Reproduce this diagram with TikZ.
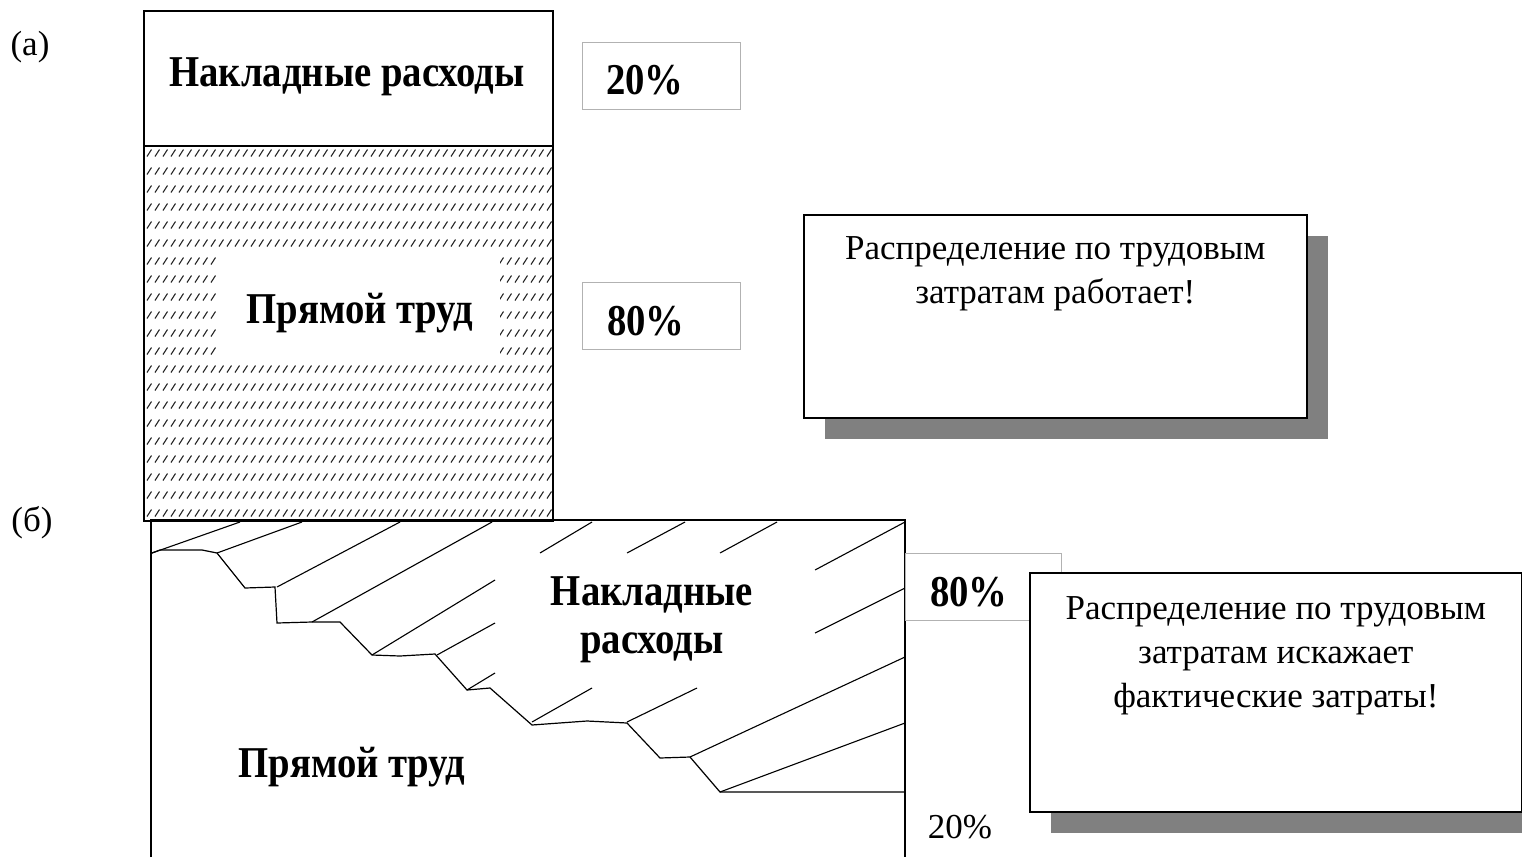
\documentclass[tikz,border=0pt]{standalone}
\usepackage{fontspec}
\setmainfont{Liberation Serif}
\usetikzlibrary{positioning, shadows}
\newcommand{\squeeze}[1]{\scalebox{0.88}[1]{#1}}

\begin{document}
\begin{tikzpicture}[x=1pt, y=-1pt]
    \tikzset{
        bar/.style={
            rectangle,
            draw=black,
            line width=1.6pt,
            inner sep=0pt,
            anchor=north west
        },
        pct/.style={
            rectangle,
            draw=black!30,
            line width=0.8pt,
            inner sep=0pt,
            anchor=north west,
            minimum width=158pt,
            minimum height=67pt
        },
        note/.style={
            rectangle,
            draw=black,
            line width=1.6pt,
            fill=white,
            inner sep=0pt,
            anchor=north west,
            drop shadow={shadow xshift=21pt, shadow yshift=-21pt, fill=black!50, opacity=1}
        },
        big/.style={inner sep=0pt, font=\fontsize{44}{48}\selectfont\bfseries},
        txt/.style={inner sep=0pt, font=\fontsize{35}{44}\selectfont, align=center}
    }

    \useasboundingbox (0,0) rectangle (1522,857);
    \clip (0,0) rectangle (1522,857);

    % (а)
    \node[txt] (taga) at (30,47) {(а)};
    \node[bar, minimum width=409pt, minimum height=135pt] (overa) at (143,10) {};
    \node[big] (overalabel) at (347,77) {\squeeze{Накладные расходы}};

    \draw[black!85, line width=1.1pt] \foreach \r in {0,...,20} {\foreach \c in {0,...,50} {(147+8*\c, 156.5+18*\r) -- ++(4.5,-7)}};
    \node[rectangle, fill=white, inner sep=0pt, anchor=north west, minimum width=282pt, minimum height=107pt] (labourabg) at (218,255) {};
    \node[big] (labouralabel) at (360,313) {\squeeze{Прямой труд}};
    \node[bar, minimum width=409pt, minimum height=375pt] (laboura) at (143,145) {};

    \node[pct] (pcta1) at (582,42) {};
    \node[big, right=24pt of pcta1.west, yshift=-4pt] (pcta1label) {\squeeze{20\%}};
    \node[pct] (pcta2) at (582,282) {};
    \node[big, right=25pt of pcta2.west, yshift=-5pt] (pcta2label) {\squeeze{80\%}};

    \node[note, minimum width=503pt, minimum height=203pt] (notea) at (803,214) {};
    \node[txt, below=22pt of notea.north] (noteatext) {Распределение по трудовым\\затратам работает!};

    % (б)
    \node[txt] (tagb) at (32,523) {(б)};
    \draw[line width=1.6pt] (151,857) -- (151,520) -- (905,520) -- (905,857);

    \draw[line width=1.2pt] (152,553) -- (160,550) -- (202,550) -- (217,553) -- (245,588) -- (275,587)
        -- (277,623) -- (312,622) -- (340,622) -- (372,655) -- (400,656) -- (435,654) -- (467,690)
        -- (490,688) -- (532,725) -- (587,721) -- (627,723) -- (660,758) -- (690,757) -- (720,792) -- (905,792);

    \foreach \a/\b in {{152,553}/{240,522}, {217,553}/{302,522}, {277,587}/{400,522}, {312,622}/{492,522},
        {372,655}/{495,580}, {437,655}/{495,623}, {467,690}/{495,673}, {540,553}/{592,522},
        {627,553}/{685,522}, {720,553}/{777,522}, {815,570}/{905,522}, {815,633}/{905,588},
        {532,722}/{592,688}, {627,722}/{697,688}, {690,757}/{905,657}, {720,792}/{905,723}}
        \draw[line width=1.1pt] (\a) -- (\b);

    \node[big] (overblabel) at (652,620) {\squeeze{\begin{tabular}{@{}c@{}}Накладные\\расходы\end{tabular}}};
    \node[big] (labourblabel) at (352,767) {\squeeze{Прямой труд}};

    \node[pct, minimum width=156pt] (pctb1) at (905,553) {};
    \node[big, right=25pt of pctb1.west, yshift=-5pt] (pctb1label) {\squeeze{80\%}};
    \node[txt] (pctb2label) at (960,827) {20\%};

    \node[note, minimum width=492pt, minimum height=239pt] (noteb) at (1029,572) {};
    \node[txt, below=24pt of noteb.north] (notebtext) {Распределение по трудовым\\затратам искажает\\фактические затраты!};
\end{tikzpicture}
\end{document}
